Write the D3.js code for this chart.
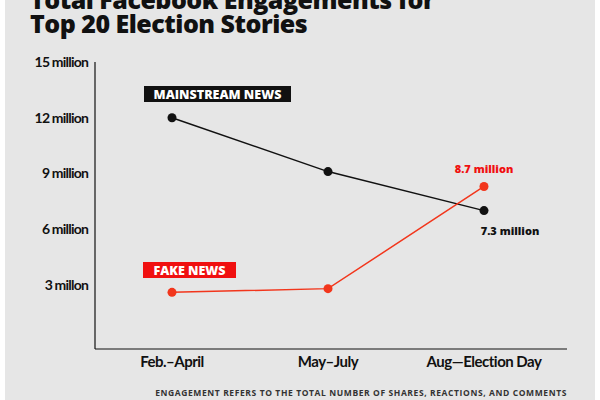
<!DOCTYPE html><html><head><meta charset="utf-8"><script src="https://cdn.jsdelivr.net/npm/d3@7"></script>
<style>body{margin:0}svg{display:block}</style></head><body><svg width="600" height="400"></svg>
<script>
const categories=["Feb.–April","May–July","Aug—Election Day"];
const mainstream=[12.0,9.1,7.0];
const fake=[2.6,2.8,8.3];
const yTicks=[3,6,9,12,15];
const yTickLabels=["3 millon","6 million","9 million","12 million","15 million"];
const svg=d3.select("svg");
svg.append("rect").attr("x",5).attr("y",0).attr("width",590).attr("height",400).attr("fill","#e6e6e6");
const F="Lato, 'Open Sans', sans-serif";
const T="'Open Sans', Lato, sans-serif";
svg.append("text").attr("x",30).attr("y",9).text("Total Facebook Engagements for").attr("font-family",T).attr("font-weight",800).attr("font-size",25).attr("letter-spacing",-0.5).attr("fill","#111");
svg.append("text").attr("x",30).attr("y",33).text("Top 20 Election Stories").attr("font-family",T).attr("font-weight",800).attr("font-size",25).attr("letter-spacing",-0.5).attr("fill","#111");
const x=d3.scalePoint().domain(categories).range([172,484]);
const y=d3.scaleLinear().domain([-0.45,15]).range([349,62]);
svg.append("line").attr("x1",95).attr("x2",95).attr("y1",62).attr("y2",349).attr("stroke","#111").attr("stroke-width",1.2);
svg.append("line").attr("x1",95).attr("x2",567).attr("y1",349).attr("y2",349).attr("stroke","#111").attr("stroke-width",1.2);
yTicks.forEach((t,i)=>svg.append("text").attr("x",88).attr("y",y(t)+5).attr("text-anchor","end").text(yTickLabels[i]).attr("font-family",F).attr("font-weight",700).attr("font-size",14).attr("letter-spacing",-0.8).attr("fill","#111"));
categories.forEach(c=>svg.append("text").attr("x",x(c)).attr("y",367).attr("text-anchor","middle").text(c).attr("font-family",F).attr("font-weight",700).attr("font-size",15).attr("letter-spacing",-0.5).attr("fill","#111"));
const line=d3.line().x((d,i)=>x(categories[i])).y(d=>y(d));
function series(vals,col){
 svg.append("path").attr("d",line(vals)).attr("fill","none").attr("stroke",col).attr("stroke-width",1.5);
 svg.selectAll(null).data(vals).enter().append("circle").attr("cx",(d,i)=>x(categories[i])).attr("cy",d=>y(d)).attr("r",4.5).attr("fill",col);
}
series(mainstream,"#111");series(fake,"#f2361c");
function tag(txt,x0,yc,bg,w){
 svg.append("rect").attr("x",x0).attr("y",yc-8).attr("width",w).attr("height",16).attr("fill",bg);
 svg.append("text").attr("x",x0+w/2).attr("y",yc+4.5).attr("text-anchor","middle").text(txt).attr("font-family",T).attr("font-weight",800).attr("font-size",12.5).attr("fill","#fff");
}
tag("MAINSTREAM NEWS",144,94,"#111",147);
tag("FAKE NEWS",143,270,"#f01010",93);
svg.append("text").attr("x",484).attr("y",173).attr("text-anchor","middle").text("8.7 million").attr("font-family",T).attr("font-weight",800).attr("font-size",11).attr("fill","#f01010");
svg.append("text").attr("x",510).attr("y",235).attr("text-anchor","middle").text("7.3 million").attr("font-family",T).attr("font-weight",800).attr("font-size",11).attr("fill","#111");
svg.append("text").attr("x",567).attr("y",396).attr("text-anchor","end").text("ENGAGEMENT REFERS TO THE TOTAL NUMBER OF SHARES, REACTIONS, AND COMMENTS").attr("font-family",T).attr("font-weight",700).attr("font-size",8.5).attr("letter-spacing",0.6).attr("fill","#333");
</script></body></html>
